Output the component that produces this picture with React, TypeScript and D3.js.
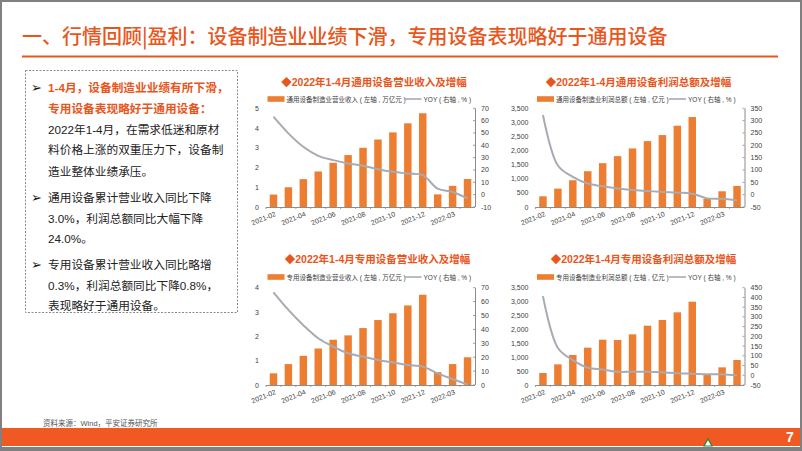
import React from 'react';
import * as d3 from 'd3';

// ---------- data ----------
const months = [
  '2021-02', '2021-03', '2021-04', '2021-05', '2021-06', '2021-07', '2021-08',
  '2021-09', '2021-10', '2021-11', '2021-12', '2022-02', '2022-03', '2022-04',
];
const tickLabels = ['2021-02', '2021-04', '2021-06', '2021-08', '2021-10', '2021-12', '2022-03'];

const genRevenue = [0.63, 1.0, 1.41, 1.8, 2.24, 2.63, 3.0, 3.42, 3.78, 4.24, 4.75, 0.64, 1.07, 1.42];
const genRevenueYoy = [63.2, 49.7, 38.8, 31.5, 28, 25.3, 23.4, 20.6, 18.5, 17.1, 15.8, 4.9, 2.2, -3.0];
const genProfit = [380, 652, 949, 1269, 1554, 1803, 2076, 2336, 2550, 2882, 3190, 297, 557, 747];
const genProfitYoy = [323, 118, 72, 45, 34, 25, 19, 15, 11, 8, 4, -15, -17, -24];
const specRevenue = [0.48, 0.86, 1.2, 1.5, 1.86, 2.04, 2.34, 2.67, 2.95, 3.27, 3.71, 0.53, 0.86, 1.14];
const specRevenueYoy = [66.6, 54, 43, 33.6, 27.6, 22.8, 20.4, 18, 16.3, 14.4, 13.2, 8.4, 4.3, 0.3];
const specProfit = [432, 743, 1079, 1343, 1630, 1619, 1822, 2134, 2338, 2614, 2997, 372, 635, 899];
const specProfitYoy = [407, 140, 78, 39, 30, 18, 18, 18, 15, 10, 8, 5, 5, -0.8];

const chartTitles = [
  '◆2022年1-4月通用设备营业收入及增幅',
  '◆2022年1-4月通用设备利润总额及增幅',
  '◆2022年1-4月专用设备营业收入及增幅',
  '◆2022年1-4月专用设备利润总额及增幅',
];
const barLegends = [
  '通用设备制造业营业收入 ( 左轴 , 万亿元 )',
  '通用设备制造业利润总额 ( 左轴 , 亿元 )',
  '专用设备制造业营业收入 ( 左轴 , 万亿元 )',
  '专用设备制造业利润总额 ( 左轴 , 亿元 )',
];
const lineLegend = 'YOY ( 右轴 , % )';

const pageTitle = '一、行情回顾|盈利：设备制造业业绩下滑，专用设备表现略好于通用设备';
const sourceText = '资料来源：Wind，平安证券研究所';

// ---------- styles ----------
const W = 802;
const H = 451;
const ORANGE = '#ED7D31';
const TITLE_ORANGE = '#E8561C';
const LINE_GRAY = '#A7ABB4';
const AXIS_GRAY = '#8C8C8C';
const CJK = '"Noto Sans CJK SC", sans-serif';
const MIX = '"Liberation Sans", Arial, "Noto Sans CJK SC", sans-serif';

type Spec = {
  x0: number; x1: number; yTop: number; yBot: number;
  bars: number[]; yoy: number[];
  left: [number, number]; leftStep: number; leftFmt: (n: number) => string;
  right: [number, number]; rightStep: number;
  title: string; titleX: number; titleY: number;
  legend: string; legendY: number; legendTextW: number;
};

function Chart({ s }: { s: Spec }) {
  const x = d3.scaleBand<string>().domain(months).range([s.x0, s.x1]).paddingInner(0.5).paddingOuter(0.25);
  const yL = d3.scaleLinear().domain(s.left).range([s.yBot, s.yTop]);
  const yR = d3.scaleLinear().domain(s.right).range([s.yBot, s.yTop]);
  const cx = (i: number) => (x(months[i]) as number) + x.bandwidth() / 2;
  const line = d3.line<number>().x((_, i) => cx(i)).y((d) => yR(d)).curve(d3.curveCatmullRom.alpha(0.5));
  const leftTicks = d3.range(s.left[0], s.left[1] + 1e-9, s.leftStep);
  const rightTicks = d3.range(s.right[0], s.right[1] + 1e-9, s.rightStep);
  const lx = s.x0 + 1.5;
  return (
    <g>
      <text x={s.titleX} y={s.titleY} textAnchor="middle" dominantBaseline="central"
        fontFamily={MIX} fontWeight={700} fontSize={10.5} fill={TITLE_ORANGE}>{s.title}</text>
      {/* legend */}
      <rect x={lx} y={s.legendY - 2.8} width={17} height={5.6} fill={ORANGE} />
      <text x={lx + 19} y={s.legendY} dominantBaseline="central" fontFamily={MIX} fontSize={6.5} fill="#404040">{s.legend}</text>
      <line x1={lx + 21 + s.legendTextW} x2={lx + 38 + s.legendTextW} y1={s.legendY} y2={s.legendY} stroke={LINE_GRAY} strokeWidth={1.6} />
      <text x={lx + 40 + s.legendTextW} y={s.legendY} dominantBaseline="central" fontFamily={MIX} fontSize={6.5} fill="#404040">{lineLegend}</text>
      {/* bars */}
      {s.bars.map((v, i) => (
        <rect key={i} x={x(months[i])} y={yL(v)} width={x.bandwidth()} height={yL(0) - yL(v)} fill={ORANGE} />
      ))}
      {/* x axis */}
      <line x1={s.x0} x2={s.x1} y1={s.yBot + 0.5} y2={s.yBot + 0.5} stroke={AXIS_GRAY} strokeWidth={1} />
      {months.map((m) => {
        const bx = (x(m) as number) - (x.step() - x.bandwidth()) / 2;
        return <line key={m} x1={bx} x2={bx} y1={s.yBot} y2={s.yBot + 2} stroke={AXIS_GRAY} strokeWidth={0.8} />;
      })}
      {months.map((m, i) => tickLabels.includes(m) ? (
        <text key={m} transform={`translate(${cx(i) + 1},${s.yBot + 4}) rotate(-22)`} textAnchor="end" dy="0.75em"
          fontFamily={MIX} fontSize={7} fill="#404040">{m}</text>
      ) : null)}
      {/* right axis */}
      <line x1={s.x1 + 0.5} x2={s.x1 + 0.5} y1={s.yTop} y2={s.yBot} stroke={AXIS_GRAY} strokeWidth={1} />
      {rightTicks.map((t) => (
        <g key={t}>
          <line x1={s.x1 - 2} x2={s.x1} y1={yR(t)} y2={yR(t)} stroke={AXIS_GRAY} strokeWidth={0.8} />
          <text x={s.x1 + 6} y={yR(t)} dominantBaseline="central" fontFamily={MIX} fontSize={7} fill="#404040">{t}</text>
        </g>
      ))}
      {/* left axis labels */}
      {leftTicks.map((t) => (
        <text key={t} x={s.x0 - 7} y={yL(t)} textAnchor="end" dominantBaseline="central" fontFamily={MIX} fontSize={7} fill="#404040">{s.leftFmt(t)}</text>
      ))}
      {/* yoy line */}
      <path d={line(s.yoy) || ''} fill="none" stroke={LINE_GRAY} strokeWidth={2} />
    </g>
  );
}

const textLines: { t: string; y: number; bullet?: boolean; orange?: boolean }[] = [
  { t: '1-4月，设备制造业业绩有所下滑，', y: 87, bullet: true, orange: true },
  { t: '专用设备表现略好于通用设备：', y: 108, orange: true },
  { t: '2022年1-4月，在需求低迷和原材', y: 129 },
  { t: '料价格上涨的双重压力下，设备制', y: 149 },
  { t: '造业整体业绩承压。', y: 171 },
  { t: '通用设备累计营业收入同比下降', y: 197, bullet: true },
  { t: '3.0%，利润总额同比大幅下降', y: 218 },
  { t: '24.0%。', y: 238 },
  { t: '专用设备累计营业收入同比略增', y: 264, bullet: true },
  { t: '0.3%，利润总额同比下降0.8%，', y: 285 },
  { t: '表现略好于通用设备。', y: 305 },
];

export default function App() {
  const fmtInt = d3.format('d');
  const fmtComma = d3.format(',');
  const specs: Spec[] = [
    { x0: 266, x1: 475, yTop: 108.3, yBot: 207, bars: genRevenue, yoy: genRevenueYoy, left: [0, 5], leftStep: 1, leftFmt: fmtInt,
      right: [-10, 70], rightStep: 10, title: chartTitles[0], titleX: 374, titleY: 82, legend: barLegends[0], legendY: 99, legendTextW: 116 },
    { x0: 535.5, x1: 744.5, yTop: 108.3, yBot: 207, bars: genProfit, yoy: genProfitYoy, left: [0, 3500], leftStep: 500, leftFmt: fmtComma,
      right: [-50, 350], rightStep: 50, title: chartTitles[1], titleX: 638.5, titleY: 82, legend: barLegends[1], legendY: 99, legendTextW: 111 },
    { x0: 266, x1: 475, yTop: 287.7, yBot: 385, bars: specRevenue, yoy: specRevenueYoy, left: [0, 4], leftStep: 1, leftFmt: fmtInt,
      right: [0, 70], rightStep: 10, title: chartTitles[2], titleX: 377.5, titleY: 259, legend: barLegends[2], legendY: 277, legendTextW: 116 },
    { x0: 535.5, x1: 744.5, yTop: 287.7, yBot: 385, bars: specProfit, yoy: specProfitYoy, left: [0, 3500], leftStep: 500, leftFmt: fmtComma,
      right: [-50, 450], rightStep: 50, title: chartTitles[3], titleX: 643.5, titleY: 259, legend: barLegends[3], legendY: 277, legendTextW: 111 },
  ];
  return (
    <svg width={W} height={H} viewBox={`0 0 ${W} ${H}`} style={{ position: 'absolute', left: 0, top: 0, display: 'block' }}>
      <rect x={0} y={0} width={W} height={H} fill="#fff" />
      {/* page title */}
      <text x={22} y={35} dominantBaseline="central" fontFamily={CJK} fontWeight={500} fontSize={20} fill={TITLE_ORANGE}>{pageTitle}</text>
      <line x1={22} x2={778} y1={56.5} y2={56.5} stroke={TITLE_ORANGE} strokeWidth={2} />
      {/* text box */}
      <rect x={25.5} y={70.5} width={212} height={242} fill="none" stroke="#8a8a8a" strokeWidth={1} strokeDasharray="2,1.5" />
      {textLines.map((l, i) => (
        <g key={i}>
          {l.bullet ? <text x={31} y={l.y} dominantBaseline="central" fontFamily='"DejaVu Sans", sans-serif' fontWeight={700} fontSize={13} fill="#111">➢</text> : null}
          <text x={48} y={l.y} dominantBaseline="central" fontFamily={MIX} fontSize={11.7}
            fontWeight={l.orange ? 700 : 400} fill={l.orange ? TITLE_ORANGE : '#222'}>{l.t}</text>
        </g>
      ))}
      {specs.map((s, i) => <Chart key={i} s={s} />)}
      {/* footer */}
      <text x={43} y={423} dominantBaseline="central" fontFamily={MIX} fontSize={7.5} fill="#555">{sourceText}</text>
      <rect x={0} y={428} width={W} height={18} fill="#F05A22" />
      <text x={790} y={437} textAnchor="middle" dominantBaseline="central" fontFamily={MIX} fontWeight={700} fontSize={14} fill="#fff">7</text>
      <path d="M704,446 L708,439 L712,446 Z" fill="#fff" stroke="#1a8a3a" strokeWidth={1.2} />
      <rect x={1} y={1} width={W - 2} height={H - 2} fill="none" stroke="#808080" strokeWidth={2} />
      <line x1={0} x2={W} y1={448.5} y2={448.5} stroke="#808080" strokeWidth={3} />
    </svg>
  );
}
